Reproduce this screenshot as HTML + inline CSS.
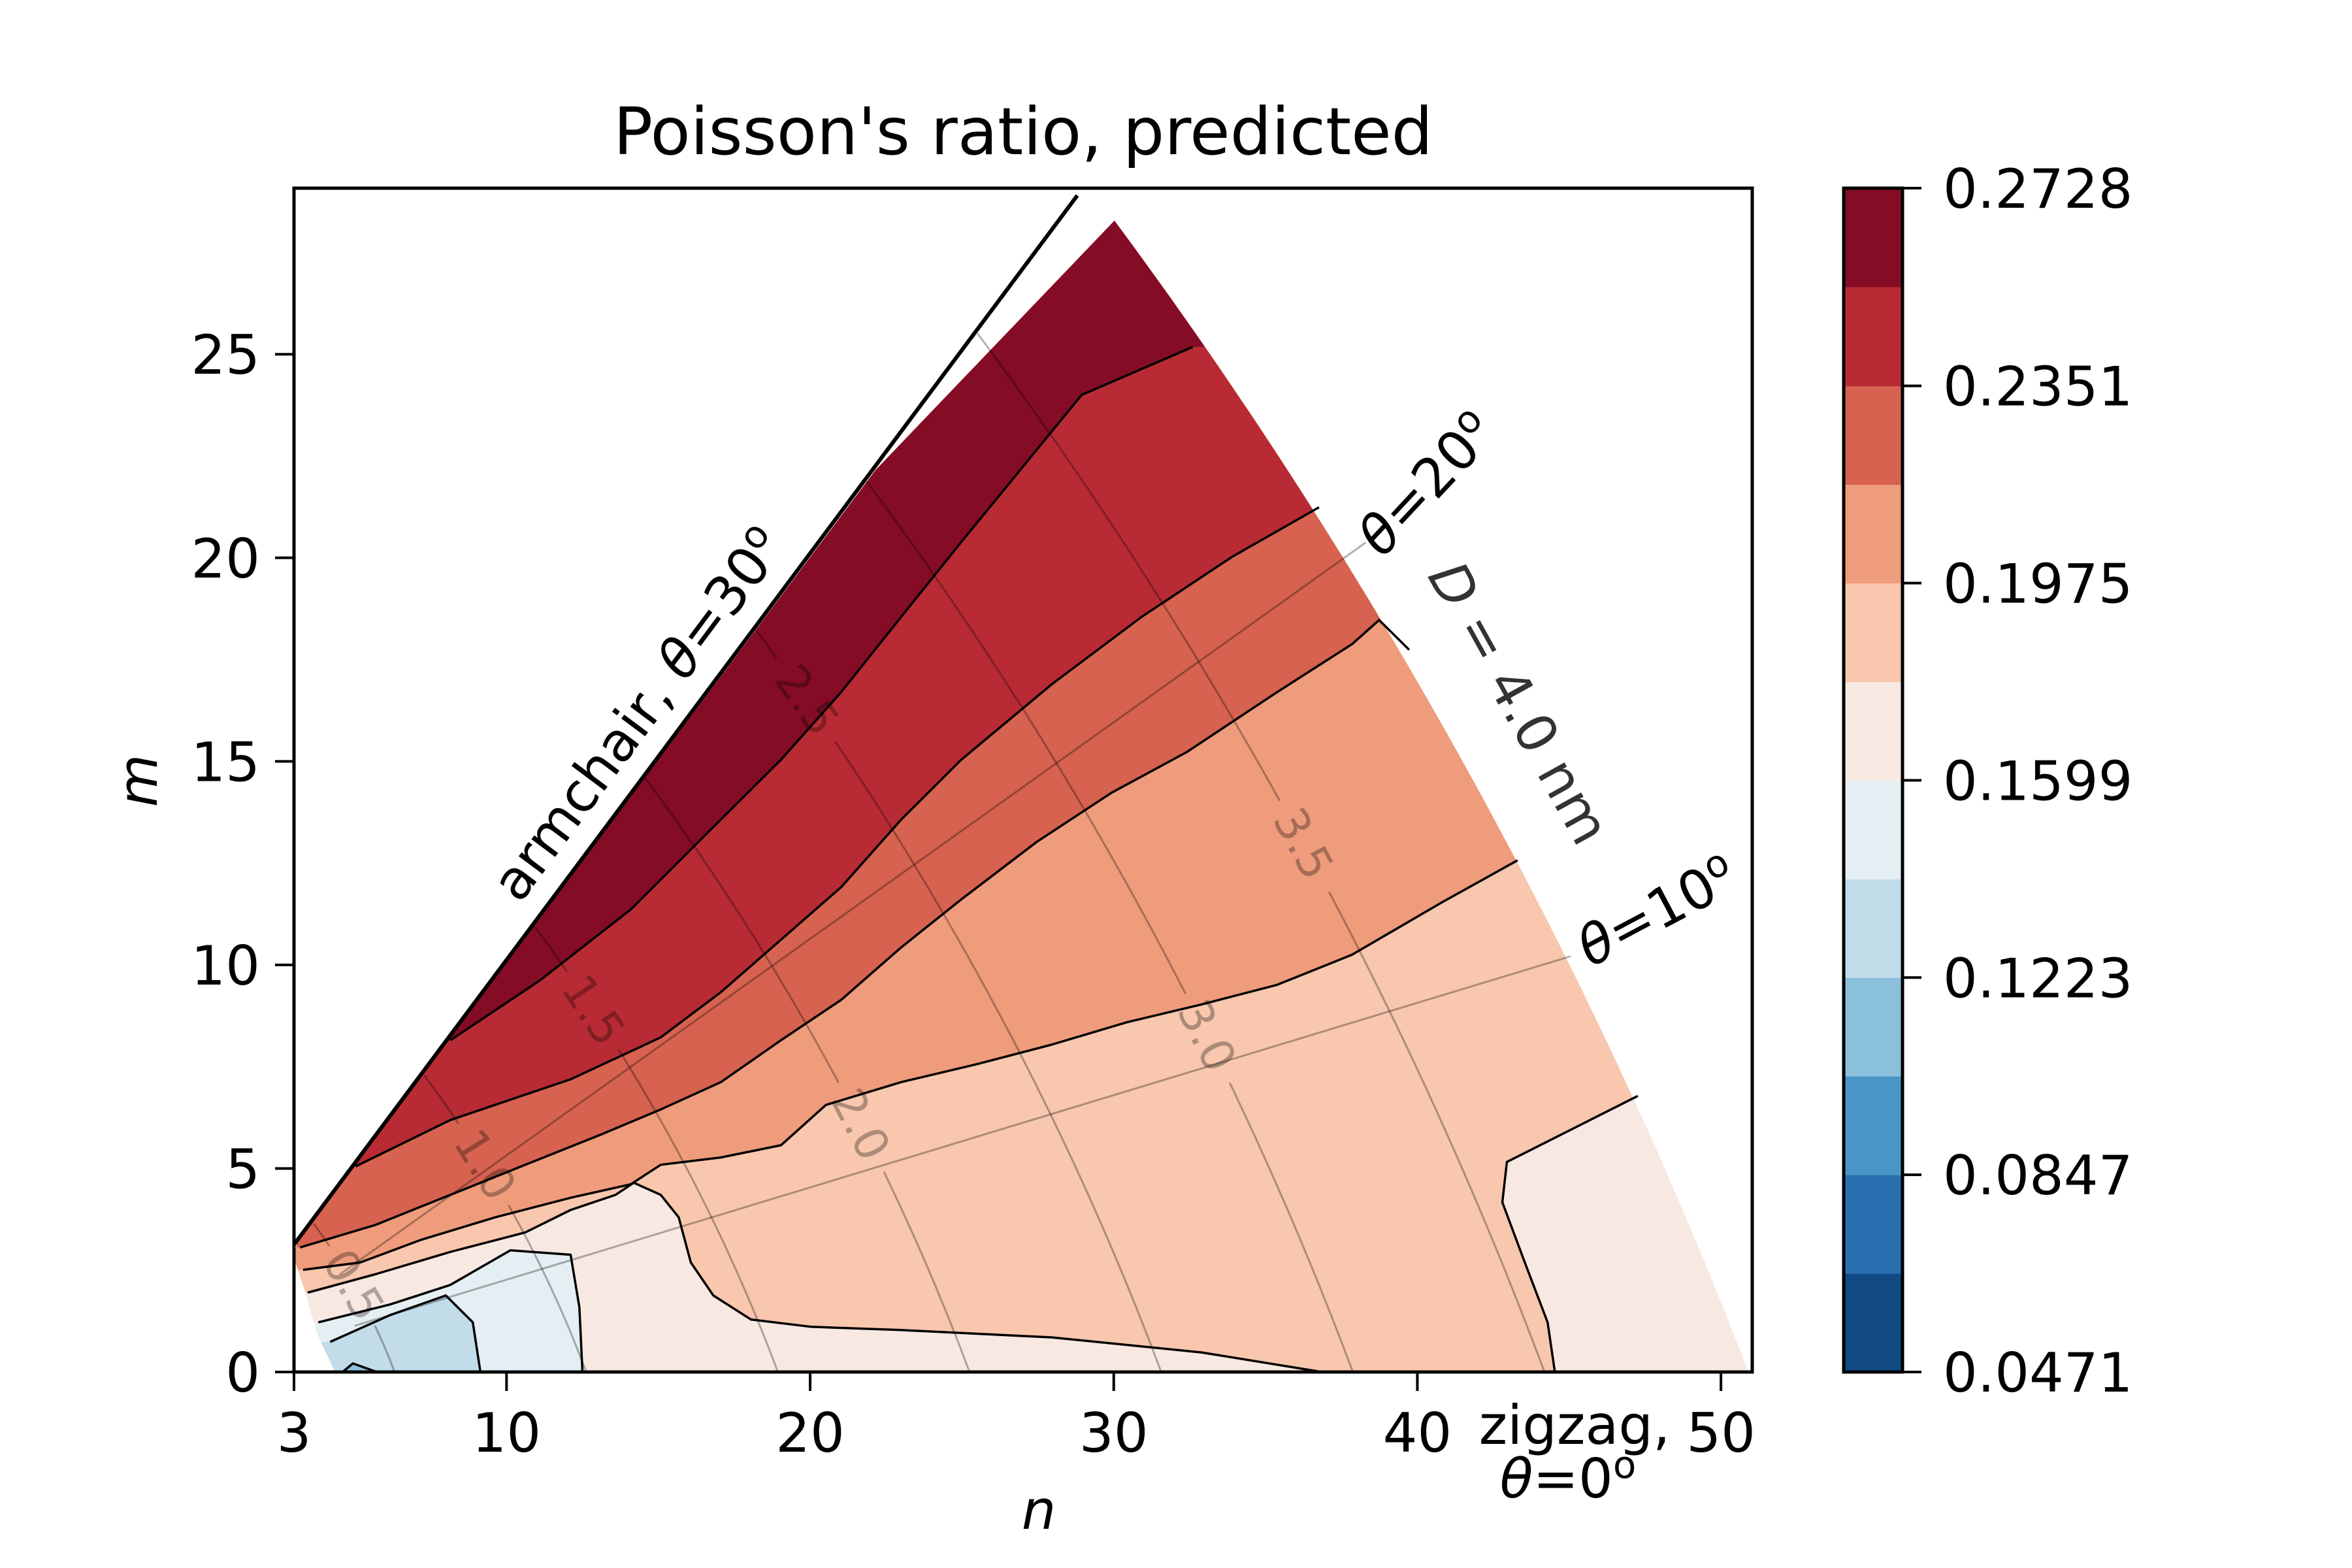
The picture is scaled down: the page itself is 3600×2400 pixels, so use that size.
<!DOCTYPE html>
<html><head><meta charset="utf-8"><title>Poisson's ratio, predicted</title>
<style>
html,body{margin:0;padding:0;background:#fff;}
svg{display:block;font-family:"DejaVu Sans","Liberation Sans",sans-serif;}
</style></head>
<body>
<svg id="chart" width="3600" height="2400" viewBox="0 0 3600 2400" xmlns="http://www.w3.org/2000/svg">
  <defs><clipPath id="plotclip"><rect x="450" y="288" width="2232" height="1812"/></clipPath></defs>
  <g id="fills" clip-path="url(#plotclip)"></g>
  <g id="guides" clip-path="url(#plotclip)"></g>
  <g id="lines" clip-path="url(#plotclip)"></g>
  <g id="axes"></g>
  <g id="cbar"></g>
  <text x="1566" y="236" text-anchor="middle" font-size="100">Poisson's ratio, predicted</text>
  <text x="1590" y="2340" text-anchor="middle" font-size="83" font-style="italic">n</text>
  <text transform="translate(240,1195) rotate(-90)" text-anchor="middle" font-size="83" font-style="italic">m</text>
  <text transform="translate(1000,1110) rotate(-53.3)" text-anchor="middle" font-size="83">armchair, <tspan font-style="italic">θ</tspan>=30<tspan font-size="58" dy="-30">o</tspan></text>
  <text transform="translate(2205,760) rotate(-47)" text-anchor="middle" font-size="83"><tspan font-style="italic">θ</tspan>=20<tspan font-size="58" dy="-30">o</tspan></text>
  <text transform="translate(2300,1090) rotate(61)" text-anchor="middle" font-size="83" fill="#333"><tspan font-style="italic">D</tspan> = 4.0 nm</text>
  <text transform="translate(2550,1420) rotate(-28)" text-anchor="middle" font-size="83"><tspan font-style="italic">θ</tspan>=10<tspan font-size="58" dy="-30">o</tspan></text>
  <text x="2410" y="2210" text-anchor="middle" font-size="83">zigzag,</text>
  <text x="2400" y="2292" text-anchor="middle" font-size="83"><tspan font-style="italic">θ</tspan>=0<tspan font-size="58" dy="-30">o</tspan></text>
</svg>
<script>
// ---- data ----
const levels = [0.0471,0.0659,0.0847,0.1035,0.1223,0.1411,0.1599,0.1787,0.1975,0.2163,0.2351,0.2540,0.2728];
const bandColors = ["#124a84","#2a6fb0","#4896c7","#8bc0dd","#c2dcea","#e5eef3","#f7e9e2","#f8c7ae","#ef9c7c","#d6624f","#b82b34","#850c25"];
const cbarTicks = ["0.0471","0.0847","0.1223","0.1599","0.1975","0.2351","0.2728"];
const xTicks = [3,10,20,30,40,50];
const yTicks = [0,5,10,15,20,25];
// contour lines in (n, m)
const c01411 = [[4.19,0.74],[6.17,1.4],[8.0,1.88],[8.89,1.22],[9.14,0]];
const c01599 = [[3.8,1.22],[6.17,1.66],[8.15,2.14],[10.13,2.99],[12.11,2.88],[12.4,1.59],[12.5,0]];
const c01787 = [[3.45,1.95],[5.67,2.4],[8.15,2.95],[10.62,3.43],[12.11,3.98],[13.59,4.35],[14.19,4.65],[15.08,4.35],[15.67,3.8],[16.07,2.69],[16.81,1.88],[18.05,1.29],[20.03,1.11],[23.0,1.03],[27.95,0.85],[32.9,0.48],[36.86,0]];
const c01787b = [[47.26,6.78],[42.95,5.16],[42.8,4.17],[43.54,2.69],[44.29,1.22],[44.53,0]];
const c01975 = [[3.3,2.51],[5.18,2.69],[7.16,3.24],[9.63,3.8],[12.11,4.28],[14.09,4.61],[15.08,5.09],[17.06,5.27],[19.04,5.57],[20.52,6.56],[23.0,7.12],[25.48,7.56],[27.95,8.04],[30.43,8.59],[32.9,9.03],[35.38,9.51],[37.85,10.25],[40.82,11.54],[43.3,12.57]];
const c02163 = [[3.2,3.06],[5.67,3.61],[8.15,4.35],[10.62,5.09],[13.1,5.83],[15.08,6.45],[17.06,7.12],[19.04,8.15],[21.02,9.14],[23.0,10.43],[24.98,11.61],[27.46,13.02],[29.93,14.23],[32.41,15.23],[35.38,16.7],[37.85,17.88],[38.74,18.47],[39.73,17.74]];
const c02351 = [[5.03,5.05],[8.15,6.19],[12.11,7.19],[15.08,8.22],[17.06,9.33],[19.04,10.62],[21.02,11.91],[23.0,13.57],[24.98,15.04],[27.95,16.89],[30.92,18.55],[33.89,20.02],[36.76,21.24]];
const c02540 = [[8.15,8.15],[11.1,9.62],[14.09,11.36],[16.56,13.2],[19.04,15.04],[21.02,16.7],[23.0,18.55],[24.98,20.39],[28.94,24.0],[32.6,25.18]];
const lowSpot = [[4.6,0],[4.94,0.21],[5.73,0]];
const domainLowerLeft = [[3.11,3.21],[3.0,2.79],[3.37,1.97],[3.58,1.4],[3.81,0.85],[4.35,0]];
const armchairKink = [22.16,22.16];
const outerDiameter = 4.0;
const diameters = [0.5,1.0,1.5,2.0,2.5,3.0,3.5];
const diamLabelM = [2.14,5.09,8.89,6.08,16.5,8.26,12.98];
const angleRatios = [0.2267,0.532];
const angleStartN = [5,4.5];
const angleEndN = [45.05,38.3];

// ---- axes functions ----
const X0=450, X1=2682, Y0=2100, Y1=288;
const NMIN=3, NMAX=51.03, MMIN=0, MMAX=29.08;
const sx = n => X0 + (n-NMIN)/(NMAX-NMIN)*(X1-X0);
const sy = m => Y0 - (m-MMIN)/(MMAX-MMIN)*(Y0-Y1);
const NS="http://www.w3.org/2000/svg";
const RPER = 50.5/4.0; // chiral-index radius per nm
const arcN = (R,m) => (-m + Math.sqrt(Math.max(0,4*R*R-3*m*m)))/2;
function mk(tag, attrs, parent){const e=document.createElementNS(NS,tag);for(const k in attrs)e.setAttribute(k,attrs[k]);parent.appendChild(e);return e;}
const pts = arr => arr.map(p=>sx(p[0]).toFixed(1)+","+sy(p[1]).toFixed(1)).join(" ");

const fills=document.getElementById('fills'), lines=document.getElementById('lines'), guides=document.getElementById('guides');
const axes=document.getElementById('axes'), cbar=document.getElementById('cbar');

// domain polygon
const Rout = outerDiameter*RPER;
const tipM = 28.28;
let dom = domainLowerLeft.slice();
for(let i=0;i<=60;i++){const m=tipM*i/60; dom.push([arcN(Rout,m)+0.4*(1-m/tipM),m]);}
dom.push(armchairKink);
const domainPts = pts(dom);
const clipD = mk('clipPath',{id:'domclip'},document.querySelector('defs'));
mk('polygon',{points:domainPts},clipD);
const fg = mk('g',{'clip-path':'url(#domclip)'},fills);
let e;
e = mk('polygon',{points:domainPts,fill:bandColors[4]},fg);



function regionAbove(line){
  const first=line[0], last=line[line.length-1];
  let p=line.slice();
  if(last[1]<=0.01){p.push([last[0],-5],[70,-5]);} else {p.push([70,last[1]]);}
  p.push([70,40],[-5,40],[-5,first[1]]);
  return p;
}
const seq = [[c01411,5,'0.1411'],[c01599,6,'0.1599'],[c01787,7,'0.1787']];
seq.forEach(s=>{
  e = mk('polygon',{points:pts(regionAbove(s[0])),fill:bandColors[s[1]]},fg);
  
  
});
const isl = c01787b.slice(); isl.push([isl[isl.length-1][0],-5],[70,-5],[70,c01787b[0][1]]);
e = mk('polygon',{points:pts(isl),fill:bandColors[6]},fg);


e = mk('polygon',{points:pts(lowSpot),fill:bandColors[3]},fg);


const seq2 = [[c01975,8,'0.1975'],[c02163,9,'0.2163'],[c02351,10,'0.2351'],[c02540,11,'0.2540']];
seq2.forEach(s=>{
  e = mk('polygon',{points:pts(regionAbove(s[0])),fill:bandColors[s[1]]},fg);
  
  
});

// guide lines: diameters
diameters.forEach((D,i)=>{
  const R=D*RPER, mMax=R/Math.sqrt(3);
  const lm=diamLabelM[i], ln=arcN(R,lm), lx=sx(ln), ly=sy(lm);
  let segs=[], cur=[];
  for(let k=0;k<=80;k++){
    const m=mMax*k/80, n=arcN(R,m), x=sx(n), y=sy(m);
    if(Math.hypot(x-lx,y-ly)<70){ if(cur.length>1)segs.push(cur); cur=[]; }
    else cur.push(x.toFixed(1)+","+y.toFixed(1));
  }
  if(cur.length>1)segs.push(cur);
  segs.forEach(sg=>{
    e = mk('polyline',{points:sg.join(" "),fill:'none',stroke:'#000','stroke-opacity':0.3,'stroke-width':3},guides);
    
    
  });
  const n2=arcN(R,lm+0.3), x2=sx(n2), y2=sy(lm+0.3);
  let ang=Math.atan2(y2-ly,x2-lx)*180/Math.PI;
  if(ang<-90)ang+=180; if(ang>90)ang-=180;
  e = mk('text',{x:0,y:0,transform:`translate(${lx.toFixed(1)},${ly.toFixed(1)}) rotate(${ang.toFixed(1)})`,'text-anchor':'middle','dominant-baseline':'central','font-size':70,fill:'#000','fill-opacity':0.3},guides);
  e.textContent=D.toFixed(1);
  
  
});
angleRatios.forEach((r,i)=>{
  const a=angleStartN[i], b=angleEndN[i];
  e = mk('line',{x1:sx(a),y1:sy(a*r),x2:sx(b),y2:sy(b*r),stroke:'#000','stroke-opacity':0.3,'stroke-width':3},guides);
  
  
});

// contour lines
[[c01411,'0.1411'],[c01599,'0.1599'],[c01787,'0.1787'],[c01787b,'0.1787-b'],[c01975,'0.1975'],[c02163,'0.2163'],[c02351,'0.2351'],[c02540,'0.2540'],[lowSpot,'0.1035']].forEach(c=>{
  e = mk('polyline',{points:pts(c[0]),fill:'none',stroke:'#000','stroke-width':3.5,'stroke-linejoin':'round'},lines);
  
  
});
e = mk('line',{x1:sx(3),y1:sy(3.13),x2:sx(28.8),y2:sy(28.9),stroke:'#000','stroke-width':6},lines);



// axes frame and ticks
e = mk('rect',{x:X0,y:Y1,width:X1-X0,height:Y0-Y1,fill:'none',stroke:'#000','stroke-width':5},axes);


xTicks.forEach(t=>{
  const x=sx(t);
  e = mk('line',{x1:x,y1:Y0,x2:x,y2:Y0+29,stroke:'#000','stroke-width':4},axes);
  
  
  e = mk('text',{x:x,y:Y0+122,'text-anchor':'middle','font-size':83},axes);
  e.textContent=t;
  
  
});
yTicks.forEach(t=>{
  const y=sy(t);
  e = mk('line',{x1:X0-29,y1:y,x2:X0,y2:y,stroke:'#000','stroke-width':4},axes);
  
  
  e = mk('text',{x:X0-52,y:y+30,'text-anchor':'end','font-size':83},axes);
  e.textContent=t;
  
  
});

// colorbar
const CX0=2822, CX1=2912, CT=288, CB=2100;
const cy = v => CB - (v-levels[0])/(levels[levels.length-1]-levels[0])*(CB-CT);
bandColors.forEach((c,i)=>{
  const yt=cy(levels[i+1]), yb=cy(levels[i]);
  e = mk('rect',{x:CX0,y:yt,width:CX1-CX0,height:(yb-yt)+0.6,fill:c},cbar);
  
  
});
e = mk('rect',{x:CX0,y:CT,width:CX1-CX0,height:CB-CT,fill:'none',stroke:'#000','stroke-width':5},cbar);


cbarTicks.forEach(t=>{
  const y=cy(parseFloat(t));
  e = mk('line',{x1:CX1,y1:y,x2:CX1+29,y2:y,stroke:'#000','stroke-width':4},cbar);
  
  
  e = mk('text',{x:CX1+62,y:y+30,'font-size':83},cbar);
  e.textContent=t;
  
  
});
</script>
</body></html>
